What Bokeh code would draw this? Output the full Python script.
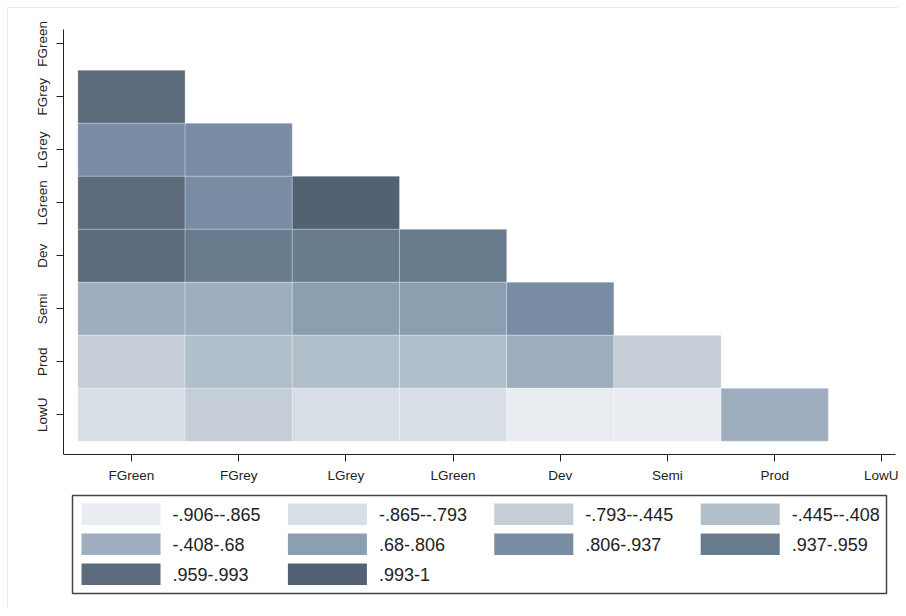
import numpy as np
from bokeh.plotting import figure
from bokeh.models import ColumnDataSource, FixedTicker, Range1d
from bokeh.layouts import column
from bokeh.core.properties import value
from bokeh.embed import file_html
from bokeh.resources import INLINE

# ---- data ----
variables = ["FGreen", "FGrey", "LGrey", "LGreen", "Dev", "Semi", "Prod", "LowU"]
# lower-triangle correlations: row variable vs earlier column variables
corr_FGrey = [0.975]
corr_LGrey = [0.900, 0.880]
corr_LGreen = [0.970, 0.850, 0.996]
corr_Dev = [0.965, 0.950, 0.945, 0.955]
corr_Semi = [0.500, 0.450, 0.740, 0.720, 0.850]
corr_Prod = [-0.600, -0.420, -0.430, -0.425, 0.100, -0.700]
corr_LowU = [-0.830, -0.750, -0.820, -0.810, -0.880, -0.890, 0.200]
rows = [corr_FGrey, corr_LGrey, corr_LGreen, corr_Dev, corr_Semi, corr_Prod, corr_LowU]

bin_edges = [-0.906, -0.865, -0.793, -0.445, -0.408, 0.68, 0.806, 0.937, 0.959, 0.993, 1.0]
bin_labels = ["-.906--.865", "-.865--.793", "-.793--.445", "-.445--.408",
              "-.408-.68", ".68-.806", ".806-.937", ".937-.959",
              ".959-.993", ".993-1"]
bin_colors = ["#E9EDF1", "#D8DEE5", "#C5CDD7", "#B1BFCB", "#9FAEBF",
              "#8B9FB1", "#788CA3", "#687C8E", "#5C6B7B", "#526272"]

xs, ys, vals, cols = [], [], [], []
for r, rowvals in enumerate(rows):
    i = r + 1
    for j, v in enumerate(rowvals):
        xs.append(j)
        ys.append(i)
        vals.append(v)
        k = int(np.searchsorted(bin_edges, v, side="left")) - 1
        k = min(max(k, 0), len(bin_colors) - 1)
        cols.append(bin_colors[k])

src = ColumnDataSource(dict(x=xs, y=ys, v=vals, c=cols))

FONT = "Liberation Sans"

p = figure(width=890, height=480, output_backend="svg", toolbar_location=None,
           x_range=Range1d(-0.634, 7.127), y_range=Range1d(7.75, -0.27),
           min_border_left=55, min_border_right=3, min_border_top=21,
           min_border_bottom=34)
p.outline_line_color = None
p.grid.visible = False
p.background_fill_color = "white"
p.border_fill_color = "white"

p.rect(x="x", y="y", width=1, height=1, source=src, fill_color="c",
       line_color="white", line_alpha=0.25, line_width=1)

ticks = list(range(len(variables)))
overrides = {t: n for t, n in zip(ticks, variables)}
for ax in (p.xaxis[0], p.yaxis[0]):
    ax.ticker = FixedTicker(ticks=ticks)
    ax.major_label_overrides = overrides
    ax.minor_tick_line_color = None
    ax.major_tick_in = 0
    ax.major_tick_out = 7
    ax.axis_line_color = "#222222"
    ax.major_tick_line_color = "#222222"
    ax.major_label_text_font = FONT
    ax.major_label_text_font_size = "13.5px"
    ax.major_label_text_color = "#222222"
    ax.major_label_standoff = 6
p.yaxis[0].major_label_orientation = "vertical"

# ---- legend panel (frame aligned with the main plot frame: page x 63..895) ----
lg = figure(width=890, height=120, output_backend="svg", toolbar_location=None,
            x_range=Range1d(63, 895), y_range=Range1d(120, 0),
            x_axis_location=None, y_axis_location=None,
            min_border_left=55, min_border_right=3,
            min_border_top=0, min_border_bottom=0)
lg.grid.visible = False
lg.outline_line_color = None

lg.quad(left=[72], right=[886], top=[7], bottom=[105], fill_color="white",
        line_color="#444444", line_width=1.5)

n = len(bin_labels)
col_idx = [k % 4 for k in range(n)]
row_idx = [k // 4 for k in range(n)]
sw_left = [81 + c * 206.4 for c in col_idx]
sw_top = [15 + r * 30 for r in row_idx]
lsrc = ColumnDataSource(dict(
    left=sw_left, right=[l + 79 for l in sw_left],
    top=sw_top, bottom=[t + 21.5 for t in sw_top],
    tx=[l + 91 for l in sw_left], ty=[t + 11 for t in sw_top],
    c=bin_colors, lab=bin_labels))
lg.quad(left="left", right="right", top="top", bottom="bottom",
        fill_color="c", line_color=None, source=lsrc)
lg.text(x="tx", y="ty", text="lab", source=lsrc, text_font=value(FONT),
        text_font_size="18px", text_baseline="middle", text_align="left",
        text_color="#222222")

layout = column(p, lg, spacing=0, margin=(7, 0, 0, 7),
                styles={"border-left": "1px solid #ebebeb", "border-top": "1px solid #ebebeb"})

open("out.html", "w").write(file_html(layout, INLINE))
